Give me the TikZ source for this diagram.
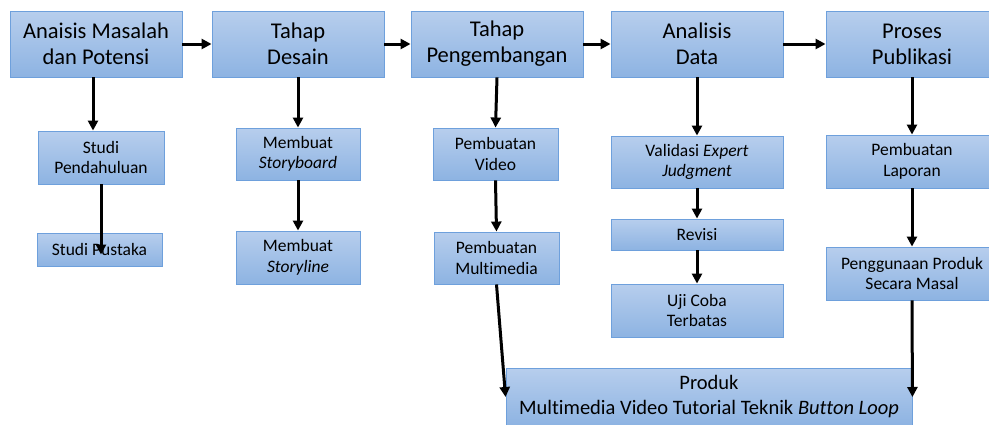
\documentclass[tikz,border=0pt]{standalone}
\usepackage{fontspec}
\setmainfont{Carlito}[Ligatures={NoCommon}]
\usetikzlibrary{arrows.meta}
\definecolor{boxtop}{RGB}{183,206,237}
\definecolor{boxbot}{RGB}{141,179,226}
\definecolor{boxline}{RGB}{110,160,220}
\tikzset{
  basebox/.style={draw=boxline, line width=0.9pt, top color=boxtop, bottom color=boxbot,
    inner sep=0pt, align=center, text=black},
  bigbox/.style={basebox, minimum width=172pt, minimum height=66pt, font=\fontsize{22.5}{26}\selectfont},
  smallbox/.style={basebox, font=\fontsize{17.5}{20.5}\selectfont},
  prodbox/.style={basebox, font=\fontsize{20.5}{25}\selectfont},
  conn/.style={line width=3pt, -{Triangle[length=10pt,width=10pt]}},
}
\begin{document}
\begin{tikzpicture}[x=1pt,y=-1pt]
\useasboundingbox (0,0) rectangle (989,424);
\clip (0,0) rectangle (989,424);
% top row
\node[bigbox] (A1) at (96,44) {Anaisis Masalah\\dan Potensi};
\node[bigbox] (A2) at (298,44) {Tahap\\Desain};
\node[bigbox] (A3) at (497,44) {Tahap\\Pengembangan};
\node[bigbox] (A4) at (697,44) {Analisis\\Data};
\node[bigbox] (A5) at (912,44) {Proses\\Publikasi};
% column 1
\node[smallbox, minimum width=126pt, minimum height=53pt] (B1) at (101,157.5) {Studi\\Pendahuluan};
\node[smallbox, minimum width=125pt, minimum height=33pt] (B1b) at (99.5,249.5) {Studi Pustaka};
% column 2
\node[smallbox, minimum width=124pt, minimum height=52pt] (B2) at (298,154) {Membuat\\\textit{Storyboard}};
\node[smallbox, minimum width=124pt, minimum height=53pt] (B2b) at (298,257.5) {Membuat\\\textit{Storyline}};
% column 3
\node[smallbox, minimum width=125pt, minimum height=52pt] (B3) at (495.5,154) {Pembuatan\\Video};
\node[smallbox, minimum width=125pt, minimum height=52pt] (B3b) at (496.5,258) {Pembuatan\\Multimedia};
% column 4
\node[smallbox, minimum width=172pt, minimum height=52pt] (B4) at (697,162) {Validasi \textit{Expert}\\\textit{Judgment}};
\node[smallbox, minimum width=172pt, minimum height=31pt] (B4b) at (697,234.5) {Revisi};
\node[smallbox, minimum width=172pt, minimum height=53pt] (B4c) at (697,310.5) {Uji Coba\\Terbatas};
% column 5
\node[smallbox, minimum width=172pt, minimum height=53pt] (B5) at (912,161.5) {Pembuatan\\Laporan};
\node[smallbox, minimum width=172pt, minimum height=53pt] (B5b) at (912,273.5) {Penggunaan Produk\\Secara Masal};
% product
\node[prodbox, minimum width=406pt, minimum height=58pt] (P) at (709,397) {Produk\\Multimedia Video Tutorial Teknik \textit{Button Loop}};
% horizontal connectors
\draw[conn] (A1.east) -- (A2.west);
\draw[conn] (A2.east) -- (A3.west);
\draw[conn] (A3.east) -- (A4.west);
\draw[conn] (A4.east) -- (A5.west);
% vertical connectors
\draw[conn] ([xshift=-3pt]A1.south) -- ([xshift=-8pt]B1.north);
\draw[conn] (B1.south) -- ([xshift=1.5pt,yshift=-5pt]B1b.center);
\draw[conn] (A2.south) -- (B2.north);
\draw[conn] (B2.south) -- (B2b.north);
\draw[conn] (A3.south) -- (B3.north);
\draw[conn] (B3.south) -- (B3b.north);
\draw[conn] (B3b.south) -- (P.west);
\draw[conn] (A4.south) -- (B4.north);
\draw[conn] (B4.south) -- (B4b.north);
\draw[conn] (B4b.south) -- (B4c.north);
\draw[conn] (A5.south) -- (B5.north);
\draw[conn] (B5.south) -- (B5b.north);
\draw[conn] (B5b.south) -- (P.east);
\end{tikzpicture}
\end{document}
